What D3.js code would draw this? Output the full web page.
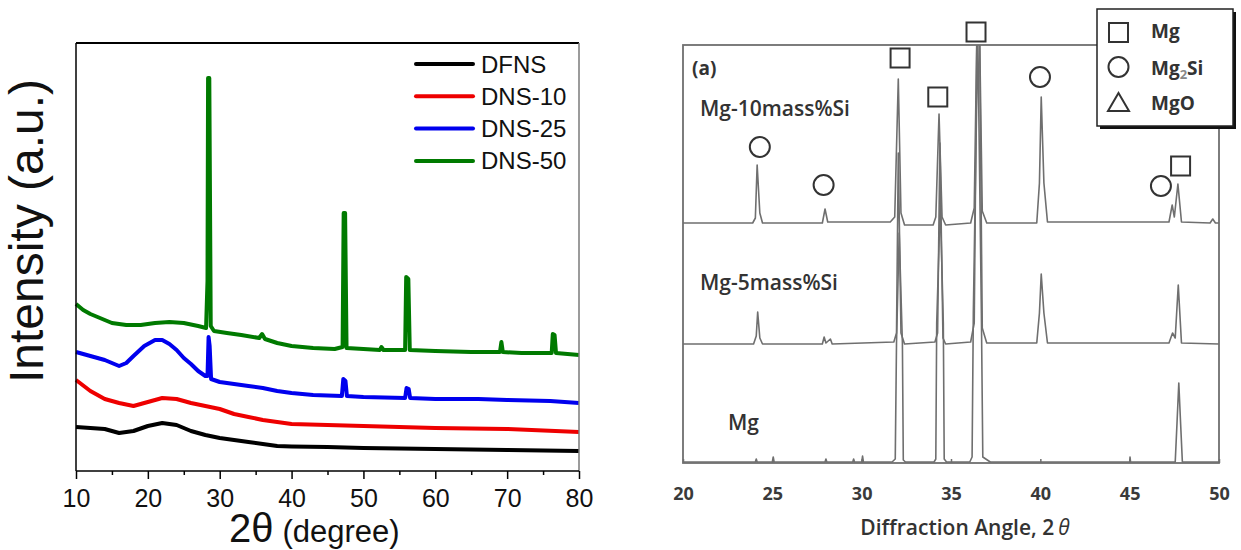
<!DOCTYPE html>
<html>
<head>
<meta charset="utf-8">
<script src="https://cdn.jsdelivr.net/npm/d3@7"></script>
<style>
  body { margin: 0; background: #fff; }
  svg { display: block; }
</style>
</head>
<body>
<div class="chart"></div>
<script>
// ---------- left panel data: 2theta (degree) vs intensity (a.u.) ----------
var leftSeries = ["DFNS", "DNS-10", "DNS-25", "DNS-50"];
var leftColors = ["#000000", "#ee0000", "#0000ee", "#007a00"];
var leftTicks = [10, 20, 30, 40, 50, 60, 70, 80];

var dfns = [[10,44],[12,43],[14,42],[16,38],[18,40],[20,45],[22,48],[24,46],[26,40],[28,36],
  [30,33],[32,31],[34,29],[36,27],[38,25],[40,24.5],[45,24],[50,23],[60,22],[70,21],[80,20]];
var dns10 = [[10,91],[12,80],[14,72],[16,68],[18,65],[20,69],[22,73],[24,72],[26,68],[28,65],
  [30,62],[32,57],[34,54],[36,51],[38,49],[40,47],[45,46],[50,45],[60,43],[70,42],[80,39]];
var dns25 = [[10,119],[12,115],[14,111],[16,105],[17,108],[18,115],[19.5,125],[21,131],[22,131],
  [23,127],[24,121],[25,113],[26,107],[27,100],[28,95],[28.3,95],[28.45,134],[28.6,125],[28.8,92],
  [30,89],[32,87],[34,85],[36,83],[38,80],[40,78],[43,76],[47,75],[47.2,92],[47.5,90],[47.7,75],
  [50,74],[55.8,73],[56,83],[56.3,82],[56.5,73],[60,72],[66,72],[70,71],[76,70],[80,68]];
var dns50 = [[10,167],[11,161],[12,157],[13,154],[14,151],[15,148],[17,146],[19,146],[21,148],
  [23,149],[25,148],[27,145],[28.1,143],[28.3,190],[28.38,393],[28.55,393],[28.75,145],[29.2,140],
  [31,138],[33,136],[35.5,133],[35.9,137],[36.3,132],[38,128],[40,125],[43,123],[46,122],[47.1,124],
  [47.25,258],[47.45,258],[47.65,123],[50,122],[52.3,121],[52.5,124],[52.8,121],[55.8,121],
  [55.95,194],[56.25,192],[56.45,121],[60,120],[65,119],[69,119],[69.2,129],[69.4,119],[72,118],
  [76.2,118],[76.35,137],[76.6,136],[76.8,118],[80,116]];
var leftData = [dfns, dns10, dns25, dns50];

// ---------- right panel data: diffraction angle vs intensity ----------
var rightTicks = [20, 25, 30, 35, 40, 45, 50];
var rightNames = ["Mg-10mass%Si", "Mg-5mass%Si", "Mg"];

var mg10 = [[20,240],[23.9,240],[24.05,245],[24.15,298],[24.3,250],[24.45,240],[27.8,240],[27.95,254],
  [28.1,241],[31.6,241],[31.85,246],[32.05,384],[32.2,250],[32.4,238],[34.0,238],[34.15,246],
  [34.33,349],[34.5,246],[34.7,238],[36.1,240],[36.3,255],[36.45,430],[36.6,430],[36.75,252],
  [37.0,240],[39.8,240],[39.95,280],[40.05,366],[40.2,280],[40.4,241],[47.2,241],[47.38,258],
  [47.5,246],[47.7,279],[47.9,241],[49.5,240],[49.65,244],[49.8,240],[50,240]];
var mg5 = [[20,119],[23.95,119],[24.1,127],[24.18,151],[24.3,125],[24.45,119],[27.8,119],[27.9,126],
  [28.0,120],[28.25,124],[28.35,119],[31.8,121],[31.95,130],[32.05,310],[32.2,130],[32.4,119],
  [34.1,121],[34.25,130],[34.38,320],[34.55,125],[34.7,119],[36.1,121],[36.3,140],[36.45,430],
  [36.6,430],[36.75,135],[37.0,120],[39.8,120],[39.95,150],[40.05,189],[40.2,150],[40.4,120],
  [47.2,120],[47.4,130],[47.55,125],[47.72,178],[47.9,120],[50,119]];
var mgPure = [[20,1],[24.05,1],[24.1,4],[24.15,1],[25,1],[25.05,6],[25.1,1],[27.95,1],[28,4],[28.05,1],
  [29.5,1],[29.55,4],[29.6,1],[30,1],[30.05,7],[30.1,1],[31.7,1],[31.88,4],[31.95,120],[32.1,230],
  [32.28,120],[32.33,3],[32.45,1],[34.05,1],[34.15,4],[34.2,140],[34.4,260],[34.57,140],[34.62,4],
  [34.75,1],[36.05,1],[36.18,6],[36.25,150],[36.5,430],[36.7,150],[36.78,6],[37.2,1],[40,1],[45,1],
  [45.02,6],[45.05,1],[47.55,1],[47.65,40],[47.75,80],[47.85,40],[47.95,1],[50,1]];
var rightData = [mg10, mg5, mgPure];

// phase markers [angle, intensity]
var mgSquares = [[32.15,405],[34.26,366],[36.4,431],[47.85,297]];
var mg2siCircles = [[24.3,316],[27.87,278],[39.98,386],[46.75,277]];
var phaseNames = ["Mg", "Mg2Si", "MgO"];

// ---------- svg ----------
var svgWidth = 1241;
var svgHeight = 550;

var svg = d3.select(".chart")
  .append("svg")
  .attr("width", svgWidth)
  .attr("height", svgHeight);

svg.append("rect").attr("width", svgWidth).attr("height", svgHeight).attr("fill", "#fff");

//__________________________________________________________________________________
// left panel
var xL = d3.scaleLinear().domain([10, 80]).range([76, 579]);
var yL = d3.scaleLinear().domain([0, 428]).range([471, 43]);

var leftLine = d3.line()
  .x(d => xL(d[0]))
  .y(d => yL(d[1]));

var leftGroup = svg.append("g").attr("font-family", "Liberation Sans, Arial, sans-serif");

leftData.forEach(function(series, i) {
  leftGroup.append("path")
    .datum(series)
    .attr("fill", "none")
    .attr("stroke", leftColors[i])
    .attr("stroke-width", 4)
    .attr("stroke-linejoin", "round")
    .attr("d", leftLine);
});

// frame
leftGroup.append("line").attr("x1", 76).attr("x2", 579).attr("y1", 43).attr("y2", 43)
  .attr("stroke", "#000").attr("stroke-width", 2);
leftGroup.append("line").attr("x1", 76).attr("x2", 76).attr("y1", 43).attr("y2", 471)
  .attr("stroke", "#000").attr("stroke-width", 1.5);
leftGroup.append("line").attr("x1", 579).attr("x2", 579).attr("y1", 43).attr("y2", 471)
  .attr("stroke", "#7a7a7a").attr("stroke-width", 1.5);
leftGroup.append("line").attr("x1", 76).attr("x2", 579).attr("y1", 471).attr("y2", 471)
  .attr("stroke", "#000").attr("stroke-width", 1.5);

// x axis, major + minor
var xAxisL = leftGroup.append("g")
  .attr("transform", "translate(0, 471)")
  .call(d3.axisBottom(xL).tickValues(leftTicks).tickSize(8).tickPadding(10));
xAxisL.select(".domain").remove();
xAxisL.selectAll("text").attr("font-size", 25).attr("font-family", "Liberation Sans, Arial, sans-serif").attr("fill", "#111");
xAxisL.selectAll("line").attr("stroke", "#000").attr("stroke-width", 1.5);

var minorL = leftGroup.append("g")
  .attr("transform", "translate(0, 471)")
  .call(d3.axisBottom(xL).tickValues([15, 25, 35, 45, 55, 65, 75]).tickSize(4).tickFormat(""));
minorL.select(".domain").remove();
minorL.selectAll("line").attr("stroke", "#000").attr("stroke-width", 1.5);

// axis titles
var xTitle = leftGroup.append("text")
  .attr("x", 229)
  .attr("y", 542)
  .attr("fill", "#111");
xTitle.append("tspan").attr("font-size", 40).text("2θ");
xTitle.append("tspan").attr("font-size", 31).attr("dx", 9).text("(degree)");

leftGroup.append("text")
  .attr("transform", "translate(43, 231) rotate(-90)")
  .attr("text-anchor", "middle")
  .attr("font-size", 48)
  .attr("fill", "#111")
  .text("Intensity (a.u.)");

// legend
var legendL = leftGroup.append("g");
leftSeries.forEach(function(name, i) {
  var y = 64 + i * 32.3;
  legendL.append("line")
    .attr("x1", 416).attr("x2", 473).attr("y1", y).attr("y2", y)
    .attr("stroke", leftColors[i]).attr("stroke-width", 4).attr("stroke-linecap", "round");
  legendL.append("text")
    .attr("x", 481).attr("y", y + 8.5)
    .attr("font-size", 24).attr("fill", "#111")
    .text(name);
});

//__________________________________________________________________________________
// right panel
var xR = d3.scaleLinear().domain([20, 50]).range([683, 1219]);
var yR = d3.scaleLinear().domain([0, 418]).range([463, 45]);
var rightFont = "Open Sans, Noto Sans, sans-serif";
var grey = "#6f6f6f";

var rightLine = d3.line()
  .x(d => xR(d[0]))
  .y(d => yR(d[1]));

var rightGroup = svg.append("g").attr("font-family", rightFont);

svg.append("clipPath").attr("id", "clipR")
  .append("rect").attr("x", 683).attr("y", 45).attr("width", 536).attr("height", 418);

rightData.forEach(function(series) {
  rightGroup.append("path")
    .datum(series)
    .attr("clip-path", "url(#clipR)")
    .attr("fill", "none")
    .attr("stroke", grey)
    .attr("stroke-width", 1.6)
    .attr("stroke-linejoin", "round")
    .attr("d", rightLine);
});

rightGroup.append("rect")
  .attr("x", 683).attr("y", 45).attr("width", 536).attr("height", 418)
  .attr("fill", "none").attr("stroke", grey).attr("stroke-width", 1.8);

var xAxisR = rightGroup.append("g")
  .attr("transform", "translate(0, 463)")
  .call(d3.axisBottom(xR).tickValues(rightTicks).tickSize(-4).tickPadding(24));
xAxisR.select(".domain").remove();
xAxisR.selectAll("line").attr("stroke", grey).attr("stroke-width", 1.5);
xAxisR.selectAll("text")
  .attr("font-family", rightFont).attr("font-size", 18).attr("font-weight", "bold").attr("fill", "#3a3a3a");

var titleR = rightGroup.append("text")
  .attr("x", 965).attr("y", 535)
  .attr("text-anchor", "middle")
  .attr("font-size", 21).attr("font-weight", 600).attr("fill", "#333");
titleR.append("tspan").text("Diffraction Angle, 2");
titleR.append("tspan").attr("font-style", "italic").attr("font-weight", "normal").attr("dx", 4).text("θ");

// sample labels
rightGroup.append("text").attr("x", 692).attr("y", 75)
  .attr("font-size", 19).attr("font-weight", "bold").attr("fill", "#333").text("(a)");
var labelPos = [[700, 116], [700, 290], [728, 430]];
rightNames.forEach(function(name, i) {
  rightGroup.append("text")
    .attr("x", labelPos[i][0]).attr("y", labelPos[i][1])
    .attr("font-size", 21).attr("font-weight", 600).attr("fill", "#333")
    .text(name);
});

// phase markers
rightGroup.selectAll(".sq")
  .data(mgSquares)
  .enter()
  .append("rect")
  .attr("x", d => xR(d[0]) - 9.5)
  .attr("y", d => yR(d[1]) - 9.5)
  .attr("width", 19).attr("height", 19)
  .attr("fill", "#fff").attr("stroke", "#333").attr("stroke-width", 2);

rightGroup.selectAll(".ci")
  .data(mg2siCircles)
  .enter()
  .append("circle")
  .attr("cx", d => xR(d[0]))
  .attr("cy", d => yR(d[1]))
  .attr("r", 10)
  .attr("fill", "#fff").attr("stroke", "#333").attr("stroke-width", 2);

// phase legend box with shadow
var lg = rightGroup.append("g");
lg.append("rect").attr("x", 1100).attr("y", 12).attr("width", 136).attr("height", 117).attr("fill", "#111");
lg.append("rect").attr("x", 1097).attr("y", 9).attr("width", 136).attr("height", 117)
  .attr("fill", "#fff").attr("stroke", "#222").attr("stroke-width", 1.5);
lg.append("rect").attr("x", 1109).attr("y", 23).attr("width", 19).attr("height", 19)
  .attr("fill", "none").attr("stroke", "#333").attr("stroke-width", 2);
lg.append("circle").attr("cx", 1118.5).attr("cy", 67).attr("r", 10)
  .attr("fill", "none").attr("stroke", "#333").attr("stroke-width", 2);
lg.append("path").attr("d", "M1118.5,93 L1129,111 L1108,111 Z")
  .attr("fill", "none").attr("stroke", "#333").attr("stroke-width", 2);

var lgY = [38, 75, 110];
phaseNames.forEach(function(name, i) {
  var t = lg.append("text").attr("x", 1151).attr("y", lgY[i])
    .attr("font-size", 19).attr("font-weight", "bold").attr("fill", "#333");
  if (name === "Mg2Si") {
    t.append("tspan").text("Mg");
    t.append("tspan").attr("font-size", 13).attr("dy", 4).attr("fill", "#888").text("2");
    t.append("tspan").attr("dy", -4).text("Si");
  } else {
    t.text(name);
  }
});
</script>
</body>
</html>
